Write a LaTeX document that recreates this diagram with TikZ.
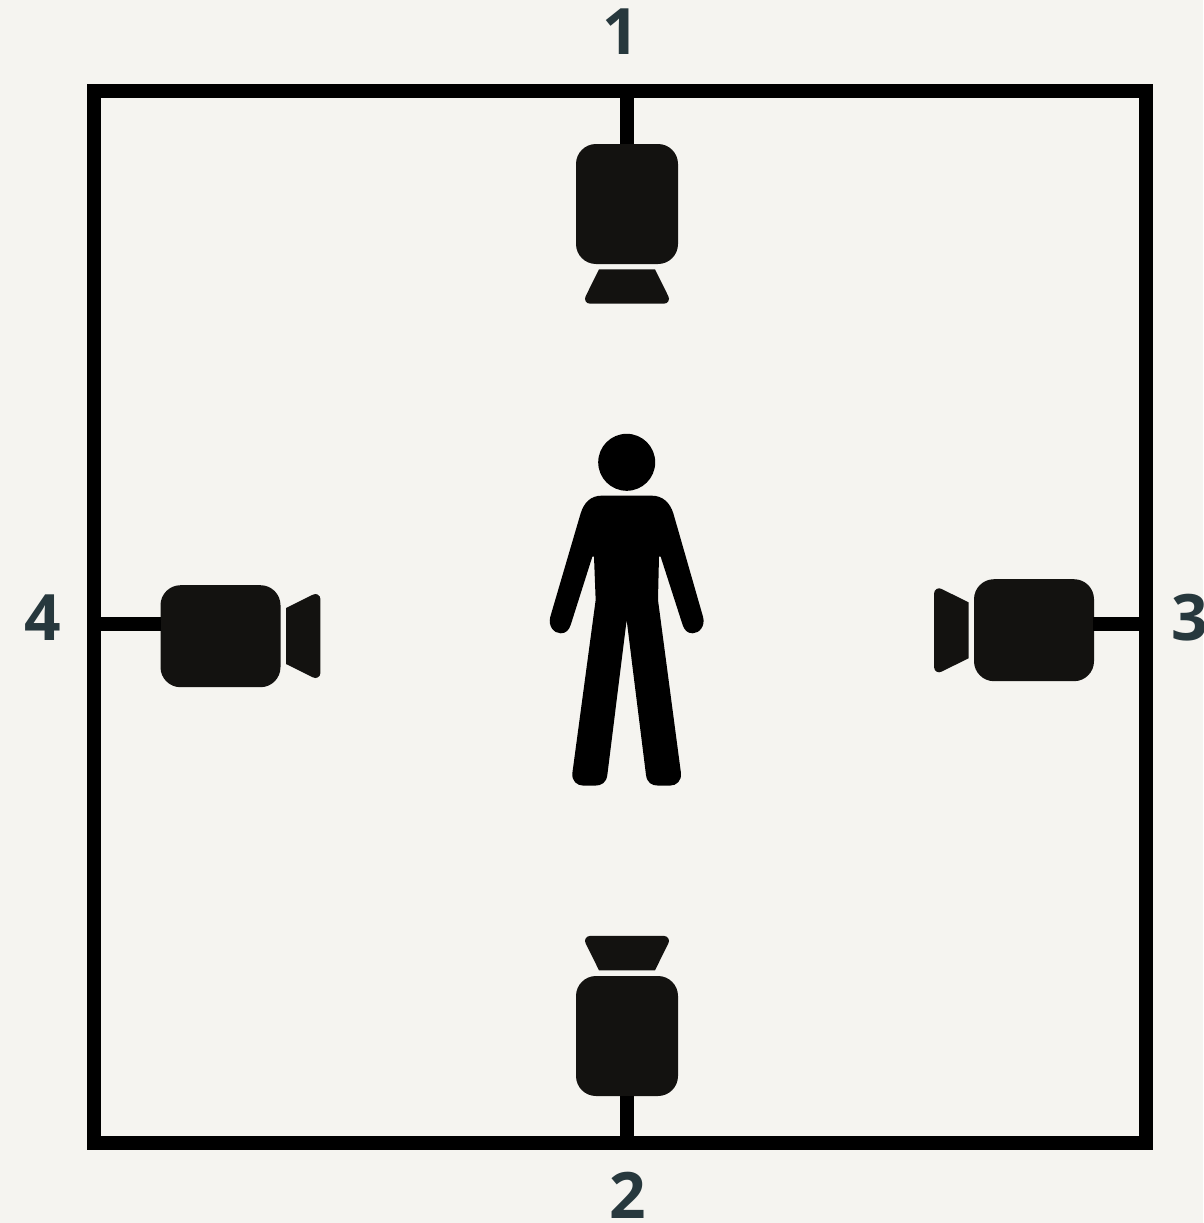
\documentclass[tikz,border=0pt]{standalone}
\usepackage{fontspec}
\setmainfont{Open Sans}
\definecolor{bg}{HTML}{F5F4F0}
\definecolor{cam}{HTML}{131210}
\definecolor{lab}{HTML}{27383D}
\tikzset{
  room/.style={draw=black,line width=14pt,minimum width=1051.5pt,minimum height=1051.5pt,inner sep=0pt,outer sep=0pt},
  body/.style={fill=cam,rounded corners=20pt,inner sep=0pt,outer sep=0pt},
  tallbody/.style={body,minimum width=102pt,minimum height=120pt},
  widebody/.style={body,minimum width=120pt,minimum height=102pt},
  wire/.style={draw=black,line width=14pt},
  num/.style={text=lab,font=\bfseries\fontsize{64pt}{64pt}\selectfont,inner sep=0pt},
  lens/.pic={\fill[cam] (-28,0) -- (28,0) -- (41.33,26.9)
     .. controls (43.25,30.2) and (40.85,34.4) .. (37,34.4)
     -- (-37,34.4) .. controls (-40.85,34.4) and (-43.25,30.2) .. (-41.33,26.9) -- cycle;}
}
\begin{document}
\begin{tikzpicture}[x=1pt,y=-1pt]
\useasboundingbox (0,0) rectangle (1203,1223);
\fill[bg] (0,0) rectangle (1203,1223);
\node[room] (frame) at (619.75,616.75) {};
\node[tallbody] (cam1) at (627,204) {};
\node[tallbody] (cam2) at (627,1036) {};
\node[widebody] (cam3) at (1034,630.2) {};
\node[widebody] (cam4) at (220.5,636.2) {};
\coordinate (w3) at (1093,623.7);
\coordinate (w4) at (161,623.7);
\draw[wire] (cam1.north) -- (cam1.north |- frame.north);
\draw[wire] (cam2.south) -- (cam2.south |- frame.south);
\draw[wire] (w3) -- (w3 -| frame.east);
\draw[wire] (w4) -- (w4 -| frame.west);
% lenses
\pic at (627,269.3) {lens};
\pic[yscale=-1] at (627,970.3) {lens};
\pic[rotate=90] at (286,636) {lens};
\pic[rotate=-90] at (968.5,630.3) {lens};
% person
\node[circle,fill=black,minimum size=57pt,inner sep=0pt] (head) at (626.7,462.3) {};
\begin{scope}[shift={(530,420)},x=0.3333pt,y=-0.3333pt]
\fill[black] (215,227) -- (365,227) .. controls (398,227) and (420,248) .. (430,280)
 -- (519,590) .. controls (527,618) and (508,640) .. (488,640)
 .. controls (472,640) and (463,630) .. (458,615)
 -- (392,410) -- (387,410) -- (384,540) -- (453,1060)
 .. controls (455,1082) and (440,1097) .. (420,1097)
 -- (385,1097) .. controls (365,1097) and (351,1088) .. (348,1065)
 -- (290,600) -- (232,1065) .. controls (229,1088) and (215,1097) .. (195,1097)
 -- (160,1097) .. controls (140,1097) and (125,1082) .. (127,1060)
 -- (197,540) -- (192,410) -- (187,410) -- (122,615)
 .. controls (117,630) and (108,640) .. (92,640)
 .. controls (72,640) and (53,618) .. (61,590)
 -- (152,280) .. controls (162,248) and (182,227) .. (215,227) -- cycle;
\end{scope}
% labels
\node[num] (n1) at (621,32) {1};
\node[num] (n2) at (628,1195) {2};
\node[num] (n3) at (1190,618) {3};
\node[num] (n4) at (43,618) {4};
\end{tikzpicture}
\end{document}
